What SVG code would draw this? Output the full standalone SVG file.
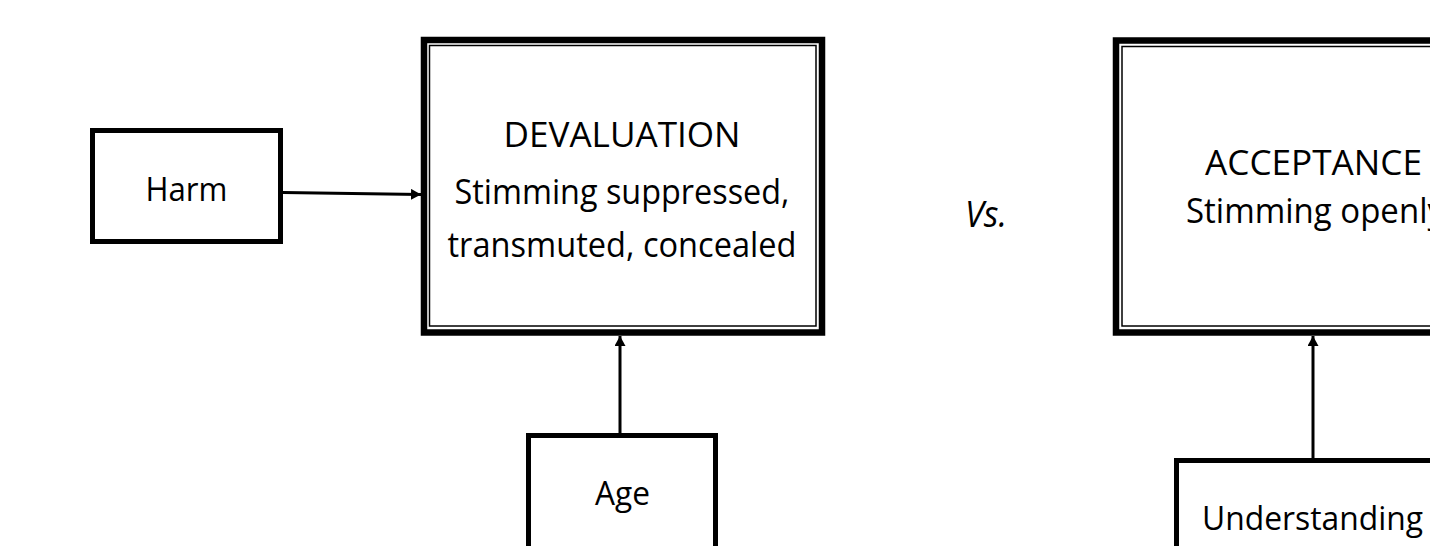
<svg xmlns="http://www.w3.org/2000/svg" width="1430" height="546" viewBox="0 0 1430 546">
  <style>
    .t { font-family: "Open Sans", "Noto Sans", "Liberation Sans", sans-serif; fill: #000; text-anchor: middle; }
    .big { font-size: 35px; }
    .small { font-size: 32px; }
    .thick { fill: #fff; stroke: #000; stroke-width: 6.5; }
    .thin { fill: none; stroke: #000; stroke-width: 1.5; }
    .box { fill: #fff; stroke: #000; stroke-width: 5; }
    .conn { stroke: #000; stroke-width: 3; fill: none; }
  </style>
  <defs>
    <marker id="arrow" markerUnits="userSpaceOnUse" markerWidth="12" markerHeight="12" refX="10" refY="5.5" orient="auto">
      <path d="M0,0 L10,5.5 L0,11 Z" fill="#000"/>
    </marker>
  </defs>
  <rect width="1430" height="546" fill="#fff"/>

  <g id="connectors">
    <line class="conn" x1="283" y1="192.5" x2="421" y2="194.5" marker-end="url(#arrow)"/>
    <line class="conn" x1="620" y1="435" x2="620" y2="336" marker-end="url(#arrow)"/>
    <line class="conn" x1="1313" y1="460" x2="1313" y2="336" marker-end="url(#arrow)"/>
  </g>

  <g id="harm">
    <rect class="box" x="92.5" y="130.5" width="188" height="111"/>
    <text class="t small" x="186.5" y="201" textLength="82" lengthAdjust="spacingAndGlyphs">Harm</text>
  </g>

  <g id="devaluation">
    <rect class="thick" x="424" y="40" width="398" height="292.5"/>
    <rect class="thin" x="429.5" y="45.5" width="386.5" height="280.5"/>
    <text class="t big" x="622" y="147" textLength="237" lengthAdjust="spacingAndGlyphs">DEVALUATION</text>
    <text class="t big" x="622" y="204" textLength="335" lengthAdjust="spacingAndGlyphs">Stimming suppressed,</text>
    <text class="t big" x="622" y="257" textLength="349" lengthAdjust="spacingAndGlyphs">transmuted, concealed</text>
  </g>

  <g id="age">
    <rect class="box" x="528.5" y="435.5" width="187" height="125"/>
    <text class="t small" x="622.5" y="505" textLength="55" lengthAdjust="spacingAndGlyphs">Age</text>
  </g>

  <g id="vs">
    <text x="965" y="227" textLength="42" lengthAdjust="spacingAndGlyphs" style="font-family: 'Open Sans', 'Noto Sans', 'Liberation Sans', sans-serif; font-size: 36px; font-style: italic; fill: #000;">Vs.</text>
  </g>

  <g id="acceptance">
    <rect class="thick" x="1116" y="40.5" width="398" height="292"/>
    <rect class="thin" x="1122" y="46.5" width="386.5" height="279.5"/>
    <text class="t big" x="1313.5" y="175" textLength="217" lengthAdjust="spacingAndGlyphs">ACCEPTANCE</text>
    <text class="t big" x="1315" y="223" textLength="258" lengthAdjust="spacingAndGlyphs">Stimming openly</text>
  </g>

  <g id="understanding">
    <rect class="box" x="1176.5" y="460.5" width="273" height="120"/>
    <text class="t small" x="1312.5" y="530" textLength="221" lengthAdjust="spacingAndGlyphs">Understanding</text>
  </g>
</svg>
